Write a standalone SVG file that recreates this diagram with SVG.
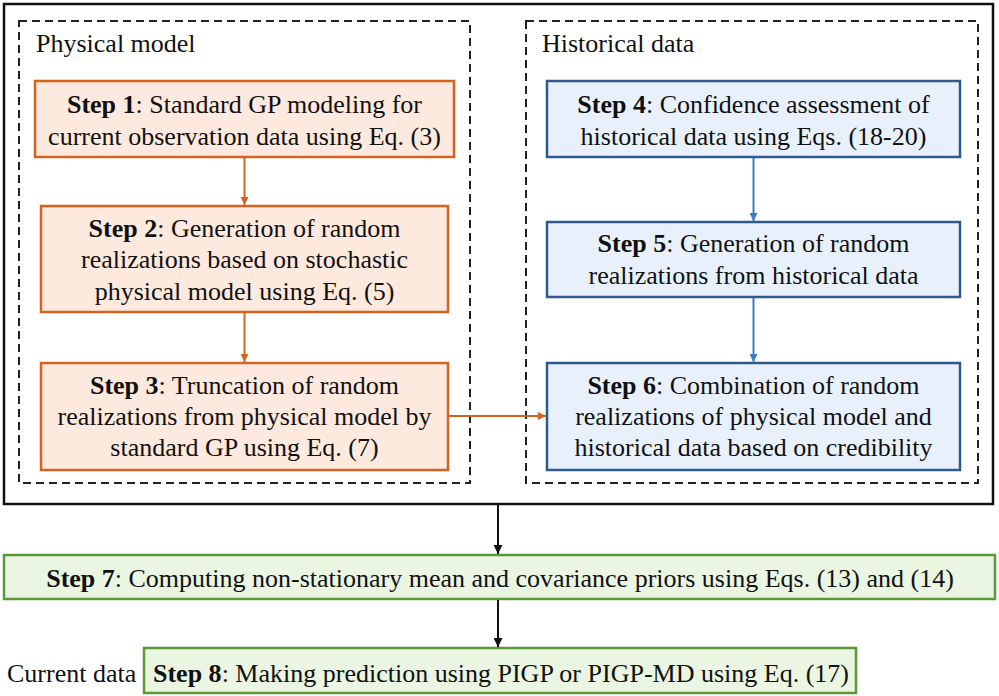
<svg xmlns="http://www.w3.org/2000/svg" width="999" height="696" viewBox="0 0 999 696">
<style>
text{font-family:"Liberation Serif","Times New Roman",serif;font-size:26px;fill:#111;text-anchor:middle}
.b{font-weight:bold}
.lab{text-anchor:start}
.or{fill:#fde9dd;stroke:#d5631f;stroke-width:2.5}
.bl{fill:#e8f1fb;stroke:#2e5a8c;stroke-width:2.5}
.gr{fill:#eaf5e2;stroke:#5a9a34;stroke-width:2.5}
.dash{fill:none;stroke:#222;stroke-width:2;stroke-dasharray:8,5}
</style>
<defs>
<marker id="ao" markerWidth="8" markerHeight="8" refX="8" refY="4" orient="auto" markerUnits="userSpaceOnUse"><path d="M0,0L8,4L0,8z" fill="#d5631f"/></marker>
<marker id="ab" markerWidth="8" markerHeight="8" refX="8" refY="4" orient="auto" markerUnits="userSpaceOnUse"><path d="M0,0L8,4L0,8z" fill="#3b7bc4"/></marker>
<marker id="ak" markerWidth="9" markerHeight="9" refX="9" refY="4.5" orient="auto" markerUnits="userSpaceOnUse"><path d="M0,0L9,4.5L0,9z" fill="#111"/></marker>
</defs>
<rect width="999" height="696" fill="#fff"/>
<g id="frame">
<rect x="4" y="4" width="989" height="500" fill="none" stroke="#111" stroke-width="2.5"/>
</g>
<g id="physical-model">
<rect class="dash" x="19" y="21" width="451" height="462"/>
<text class="lab" x="36" y="52">Physical model</text>
</g>
<g id="historical-data">
<rect class="dash" x="526" y="21" width="452" height="462"/>
<text class="lab" x="542" y="52">Historical data</text>
</g>
<g id="step1">
<rect class="or" x="35" y="81" width="419" height="76"/>
<text x="244.5" y="113"><tspan class="b">Step 1</tspan>: Standard GP modeling for</text>
<text x="244.5" y="145">current observation data using Eq. (3)</text>
</g>
<g id="step2">
<rect class="or" x="41" y="206" width="407" height="106"/>
<text x="244.5" y="237"><tspan class="b">Step 2</tspan>: Generation of random</text>
<text x="244.5" y="268">realizations based on stochastic</text>
<text x="244.5" y="300">physical model using Eq. (5)</text>
</g>
<g id="step3">
<rect class="or" x="41" y="363" width="407" height="107"/>
<text x="244.5" y="394"><tspan class="b">Step 3</tspan>: Truncation of random</text>
<text x="244.5" y="425">realizations from physical model by</text>
<text x="244.5" y="456">standard GP using Eq. (7)</text>
</g>
<g id="step4">
<rect class="bl" x="547" y="81" width="413" height="76"/>
<text x="753.5" y="113"><tspan class="b">Step 4</tspan>: Confidence assessment of</text>
<text x="753.5" y="145">historical data using Eqs. (18-20)</text>
</g>
<g id="step5">
<rect class="bl" x="547" y="222" width="413" height="75"/>
<text x="753.5" y="252"><tspan class="b">Step 5</tspan>: Generation of random</text>
<text x="753.5" y="284">realizations from historical data</text>
</g>
<g id="step6">
<rect class="bl" x="547" y="363" width="413" height="107"/>
<text x="753.5" y="394"><tspan class="b">Step 6</tspan>: Combination of random</text>
<text x="753.5" y="425">realizations of physical model and</text>
<text x="753.5" y="456">historical data based on credibility</text>
</g>
<g id="step7">
<rect class="gr" x="4" y="555" width="991" height="44"/>
<text x="500" y="587"><tspan class="b">Step 7</tspan>: Computing non-stationary mean and covariance priors using Eqs. (13) and (14)</text>
</g>
<g id="current-data">
<text class="lab" x="7" y="682">Current data</text>
</g>
<g id="step8">
<rect class="gr" x="144" y="648" width="712" height="45"/>
<text x="501" y="682"><tspan class="b">Step 8</tspan>: Making prediction using PIGP or PIGP-MD using Eq. (17)</text>
</g>
<g id="connectors" fill="none">
<line x1="244.5" y1="158" x2="244.5" y2="205" stroke="#d5631f" stroke-width="2" marker-end="url(#ao)"/>
<line x1="244.5" y1="313" x2="244.5" y2="362" stroke="#d5631f" stroke-width="2" marker-end="url(#ao)"/>
<line x1="449" y1="416" x2="546" y2="416" stroke="#d5631f" stroke-width="2" marker-end="url(#ao)"/>
<line x1="753.5" y1="158" x2="753.5" y2="221" stroke="#3b7bc4" stroke-width="2" marker-end="url(#ab)"/>
<line x1="753.5" y1="298" x2="753.5" y2="362" stroke="#3b7bc4" stroke-width="2" marker-end="url(#ab)"/>
<line x1="498" y1="505" x2="498" y2="554" stroke="#111" stroke-width="2" marker-end="url(#ak)"/>
<line x1="498" y1="600" x2="498" y2="647" stroke="#111" stroke-width="2" marker-end="url(#ak)"/>
</g>
</svg>
